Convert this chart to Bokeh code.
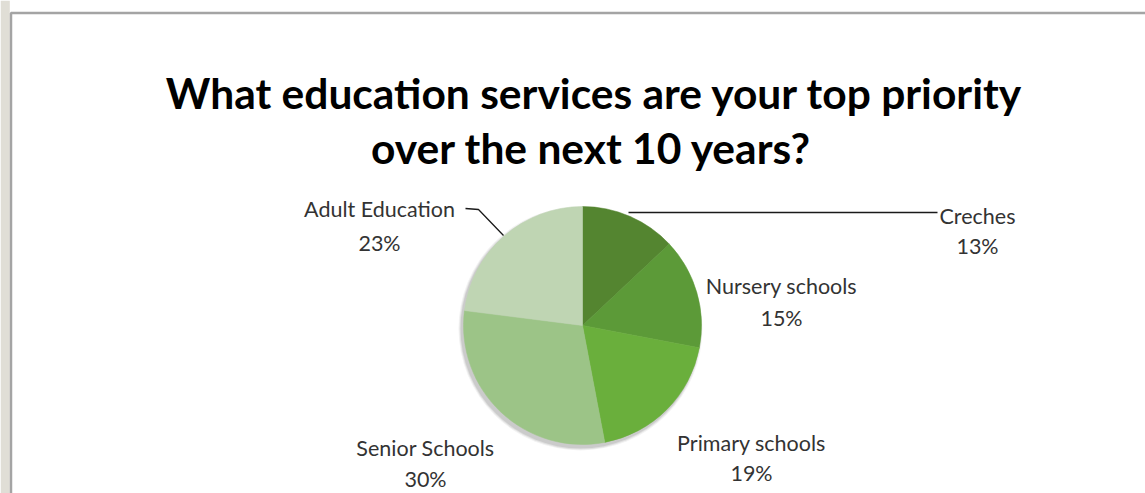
import math
from bokeh.plotting import figure
from bokeh.models import Range1d, ColumnDataSource
from bokeh.core.properties import value
from bokeh.embed import file_html
from bokeh.resources import INLINE

# ---- data ----
categories = ["Creches", "Nursery schools", "Primary schools", "Senior Schools", "Adult Education"]
shares = [13, 15, 19, 30, 23]
colors = ["#548530", "#5c9a38", "#6aaf3c", "#9cc487", "#bfd5b3"]
title_lines = ["What education services are your top priority", "over the next 10 years?"]

# ---- layout (screen pixels) ----
W, H = 1145, 493
def Y(sy):
    return H - sy

cx, cy, R = 582, 325, 119
# label anchors: (x centre, baseline of name, baseline of percent)
label_pos = [(977, 215, 245), (781, 285, 317), (751, 442, 472), (425, 447, 478), (379, 208, 242)]
leaders = [([628, 937], [212, 212]), ([465, 478, 503], [208, 209, 235])]

p = figure(width=W, height=H, x_range=Range1d(0, W), y_range=Range1d(0, H),
           output_backend="svg", toolbar_location=None, min_border=0,
           x_axis_location=None, y_axis_location=None)
p.grid.visible = False
p.outline_line_color = None
p.background_fill_color = "white"
p.border_fill_color = "white"

# left textured strip and frame border
p.quad(left=[0], right=[9.3], top=[Y(0)], bottom=[Y(H)], fill_color="#e0ded6", line_color=None)
p.line(x=[10.5, 10.5, 1200], y=[Y(600), Y(12.5), Y(12.5)], line_color="#a4a4a4", line_width=2.5)

# soft shadow
for dr, a in [(3, 0.05), (2, 0.07), (1, 0.09)]:
    p.circle(x=[cx - 2], y=[Y(cy + 3)], radius=R + dr, fill_color="#000000", fill_alpha=a, line_color=None)

# pie
total = float(sum(shares))
starts, ends = [], []
cum = 0.0
for s in shares:
    starts.append(math.pi / 2 - 2 * math.pi * cum / total)
    cum += s
    ends.append(math.pi / 2 - 2 * math.pi * cum / total)
src = ColumnDataSource(dict(x=[cx] * len(shares), y=[Y(cy)] * len(shares), start=starts, end=ends,
                            color=colors))
p.wedge(x="x", y="y", radius=R, start_angle="start", end_angle="end", direction="clock",
        fill_color="color", line_color="color", line_width=0.5, source=src)

# leader lines
for xs, ys in leaders:
    p.line(x=xs, y=[Y(v) for v in ys], line_color="#1a1a1a", line_width=1.3)

# labels
names_x = [lp[0] for lp in label_pos]
lsrc = ColumnDataSource(dict(x=names_x, y=[Y(lp[1]) for lp in label_pos], t=categories))
psrc = ColumnDataSource(dict(x=names_x, y=[Y(lp[2]) for lp in label_pos], t=[f"{s}%" for s in shares]))
for s in (lsrc, psrc):
    p.text(x="x", y="y", text="t", source=s, text_font=value("Lato"), text_font_size="21.5px",
           text_color="#333333", text_align="center", text_baseline="alphabetic")

# title
p.text(x=[594, 591], y=[Y(92), Y(147)], text=title_lines, text_font=value("Lato"),
       text_font_size="42.5px", text_font_style="bold", text_color="#000000",
       text_align="center", text_baseline="alphabetic")

open("out.html", "w").write(file_html(p, INLINE))
